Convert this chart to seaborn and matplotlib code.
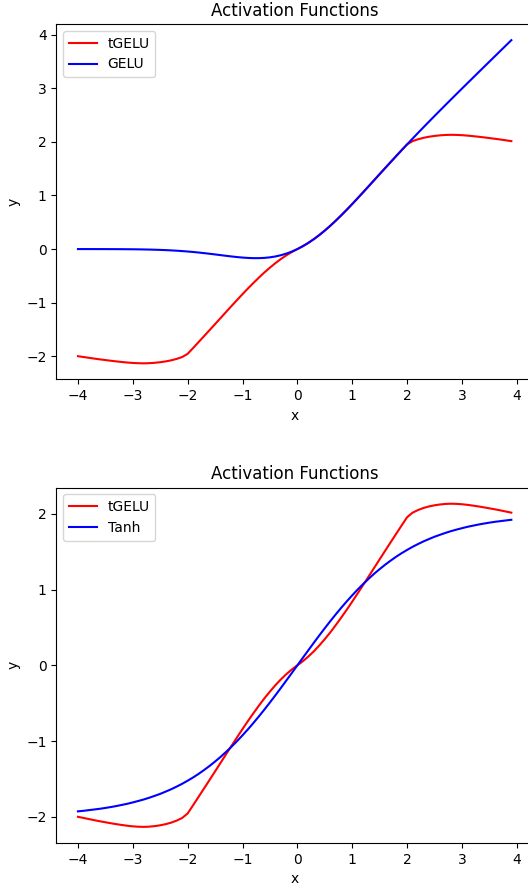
import matplotlib
matplotlib.use("Agg")
import matplotlib.pyplot as plt
import seaborn as sns
import pandas as pd

x_vals = [-4.0, -3.9, -3.8, -3.7, -3.6, -3.5, -3.4, -3.3, -3.2, -3.1,
          -3.0, -2.9, -2.8, -2.7, -2.6, -2.5, -2.4, -2.3, -2.2, -2.1,
          -2.0, -1.9, -1.8, -1.7, -1.6, -1.5, -1.4, -1.3, -1.2, -1.1,
          -1.0, -0.9, -0.8, -0.7, -0.6, -0.5, -0.4, -0.3, -0.2, -0.1,
          0.0, 0.1, 0.2, 0.3, 0.4, 0.5, 0.6, 0.7, 0.8, 0.9,
          1.0, 1.1, 1.2, 1.3, 1.4, 1.5, 1.6, 1.7, 1.8, 1.9,
          2.0, 2.1, 2.2, 2.3, 2.4, 2.5, 2.6, 2.7, 2.8, 2.9,
          3.0, 3.1, 3.2, 3.3, 3.4, 3.5, 3.6, 3.7, 3.8, 3.9]

tgelu_vals = [-2.000, -2.015, -2.030, -2.045, -2.059, -2.072, -2.085, -2.097, -2.108, -2.118,
              -2.126, -2.131, -2.133, -2.130, -2.123, -2.112, -2.097, -2.077, -2.050, -2.015,
              -1.955, -1.846, -1.735, -1.624, -1.512, -1.400, -1.287, -1.174, -1.062, -0.951,
              -0.841, -0.734, -0.631, -0.531, -0.435, -0.346, -0.262, -0.185, -0.116, -0.054,
              0.000, 0.054, 0.116, 0.185, 0.262, 0.346, 0.435, 0.531, 0.631, 0.734,
              0.841, 0.951, 1.062, 1.174, 1.287, 1.400, 1.512, 1.624, 1.735, 1.846,
              1.955, 2.015, 2.050, 2.077, 2.097, 2.112, 2.123, 2.130, 2.133, 2.131,
              2.126, 2.118, 2.108, 2.097, 2.085, 2.072, 2.059, 2.045, 2.030, 2.015]

gelu_vals = [-0.0001, -0.0002, -0.0003, -0.0004, -0.0006, -0.0008, -0.0012, -0.0016, -0.0022, -0.0030,
             -0.0040, -0.0054, -0.0072, -0.0094, -0.0122, -0.0155, -0.0197, -0.0246, -0.0306, -0.0376,
             -0.0455, -0.0545, -0.0646, -0.0758, -0.0877, -0.1002, -0.1131, -0.1258, -0.1381, -0.1493,
             -0.1587, -0.1657, -0.1695, -0.1694, -0.1646, -0.1543, -0.1378, -0.1146, -0.0841, -0.0460,
             0.0000, 0.0540, 0.1159, 0.1854, 0.2622, 0.3457, 0.4354, 0.5306, 0.6305, 0.7343,
             0.8413, 0.9507, 1.0619, 1.1742, 1.2869, 1.3998, 1.5123, 1.6242, 1.7354, 1.8455,
             1.9545, 2.0624, 2.1694, 2.2754, 2.3803, 2.4845, 2.5878, 2.6906, 2.7927, 2.8945,
             2.9960, 3.0970, 3.1978, 3.2984, 3.3988, 3.4992, 3.5994, 3.6996, 3.7997, 3.8998]

tanh_vals = [-1.928, -1.921, -1.912, -1.903, -1.894, -1.883, -1.871, -1.858, -1.843, -1.828,
             -1.810, -1.791, -1.771, -1.748, -1.723, -1.697, -1.667, -1.636, -1.601, -1.564,
             -1.523, -1.480, -1.433, -1.382, -1.328, -1.270, -1.209, -1.143, -1.074, -1.001,
             -0.924, -0.844, -0.760, -0.673, -0.583, -0.490, -0.395, -0.298, -0.199, -0.100,
             0.000, 0.100, 0.199, 0.298, 0.395, 0.490, 0.583, 0.673, 0.760, 0.844,
             0.924, 1.001, 1.074, 1.143, 1.209, 1.270, 1.328, 1.382, 1.433, 1.480,
             1.523, 1.564, 1.601, 1.636, 1.667, 1.697, 1.723, 1.748, 1.771, 1.791,
             1.810, 1.828, 1.843, 1.858, 1.871, 1.883, 1.894, 1.903, 1.912, 1.921]

df = pd.DataFrame({"x": x_vals, "tGELU": tgelu_vals, "GELU": gelu_vals, "Tanh": tanh_vals})

fig, axes = plt.subplots(2, 1, figsize=(5.28, 8.89), dpi=100)
fig.subplots_adjust(left=0.1066, right=1.0095, top=0.973, bottom=0.0517, hspace=0.304)

ax = axes[0]
sns.lineplot(data=df, x="x", y="tGELU", color="red", label="tGELU", ax=ax, sort=False)
sns.lineplot(data=df, x="x", y="GELU", color="blue", label="GELU", ax=ax, sort=False)
ax.set_title("Activation Functions")
ax.set_xlabel("x")
ax.set_ylabel("y")
ax.legend(loc="upper left")

ax = axes[1]
sns.lineplot(data=df, x="x", y="tGELU", color="red", label="tGELU", ax=ax, sort=False)
sns.lineplot(data=df, x="x", y="Tanh", color="blue", label="Tanh", ax=ax, sort=False)
ax.set_title("Activation Functions")
ax.set_xlabel("x")
ax.set_ylabel("y")
ax.legend(loc="upper left")

fig.savefig("out.png", dpi=100)
